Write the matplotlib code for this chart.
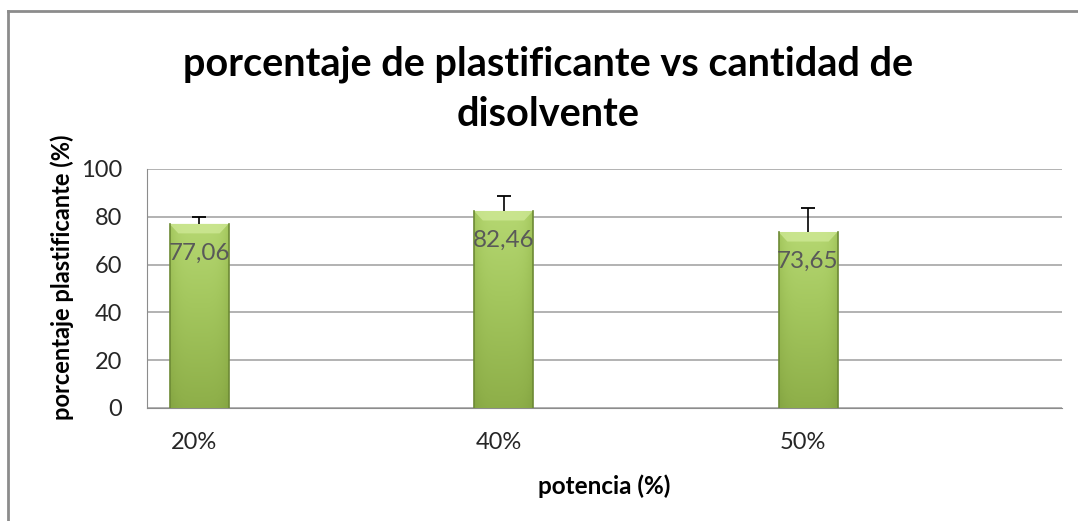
import matplotlib
matplotlib.use("Agg")
from matplotlib import pyplot as plt
from matplotlib.colors import LinearSegmentedColormap
import numpy as np

# Datos
categorias = ["20%", "40%", "50%"]
plastificante = [77.06, 82.46, 73.65]
error_sup = [3.0, 6.4, 10.2]
etiquetas = ["77,06", "82,46", "73,65"]

plt.rcParams['font.family'] = ['Lato', 'DejaVu Sans']

fig = plt.figure(figsize=(10.78, 5.21), dpi=100)
fig.patch.set_facecolor("white")

# Marco exterior del gráfico
fig.add_artist(plt.Line2D([8 / 1078, 8 / 1078], [0, 1 - 11 / 521], transform=fig.transFigure,
                          color="#8c8c8c", lw=2))
fig.add_artist(plt.Line2D([8 / 1078, 1], [1 - 11 / 521, 1 - 11 / 521], transform=fig.transFigure,
                          color="#8c8c8c", lw=2))

ax = fig.add_axes([147 / 1078, 1 - 408 / 521, (1062 - 147) / 1078, (408 - 169) / 521])

paso = 304.5
x = np.arange(len(categorias))
ancho = 59 / paso
barras = ax.bar(x, plastificante, width=ancho, color="#9bbb59", edgecolor="none", zorder=3)

# Degradado verde dentro de cada barra
cmap = LinearSegmentedColormap.from_list("verde", ["#6f8f33", "#8fb04a", "#a4c75e", "#b9db76"])
for b in barras:
    x0, y0 = b.get_x(), b.get_y()
    w, h = b.get_width(), b.get_height()
    vert = np.linspace(0, 1, 256).reshape(-1, 1)
    horiz = 1 - 0.3 * np.abs(np.linspace(-1, 1, 64)) ** 4
    grad = (vert * 0.5 + 0.25) * horiz
    im = ax.imshow(grad, extent=[x0, x0 + w, y0, y0 + h], origin="lower", cmap=cmap,
                   vmin=0, vmax=0.8, aspect="auto", zorder=3.5)
    im.set_clip_path(b)
    # bisel superior claro
    ax.fill([x0, x0 + w, x0 + w * 0.85, x0 + w * 0.15], [y0 + h, y0 + h, y0 + h - 4, y0 + h - 4],
            color="#d2eb9a", alpha=0.7, lw=0, zorder=3.6)
    ax.plot([x0, x0], [0, h], color="#6d8a35", lw=1.2, zorder=3.7)
    ax.plot([x0 + w, x0 + w], [0, h], color="#6d8a35", lw=1.2, zorder=3.7)

# Barras de error (solo positivas)
eb = ax.errorbar(x, plastificante, yerr=[np.zeros(len(x)), error_sup], fmt="none",
                 ecolor="black", elinewidth=1.2, capsize=4.7, capthick=1.3, zorder=4)
eb[1][0].set_visible(False)

for xi, v, t in zip(x, plastificante, etiquetas):
    ax.annotate(t, (xi, v), xytext=(0, -21), textcoords="offset points",
                ha="center", va="center", fontsize=17.5, color="#595959", zorder=5)

ax.set_xlim(-52 / paso, (1062 - 199) / paso)
ax.set_ylim(0, 100)
ax.set_yticks([0, 20, 40, 60, 80, 100])
ax.set_xticks(x - 5 / paso)
ax.set_xticklabels(categorias)
ax.yaxis.grid(True, color="#a6a6a6", lw=1.2, zorder=0)
ax.set_axisbelow(True)
for s in ["top", "right"]:
    ax.spines[s].set_visible(False)
ax.spines["left"].set_color("#8c8c8c")
ax.spines["bottom"].set_color("#8c8c8c")
ax.tick_params(axis="both", length=0, labelsize=17, colors="#262626")
ax.tick_params(axis="y", pad=18)
ax.tick_params(axis="x", pad=17)

ax.set_xlabel("potencia (%)", fontsize=17.5, fontweight="bold", labelpad=16)
ax.set_ylabel("porcentaje plastificante (%)", fontsize=17, fontweight="bold", va="center")
ax.yaxis.set_label_coords(-85 / 915, 131 / 239)

fig.text(548 / 1078, 1 - 89 / 521, "porcentaje de plastificante vs cantidad de\ndisolvente",
         ha="center", va="center", fontsize=28.5, fontweight="bold", linespacing=1.42)

fig.savefig("out.png", dpi=100, facecolor="white")
